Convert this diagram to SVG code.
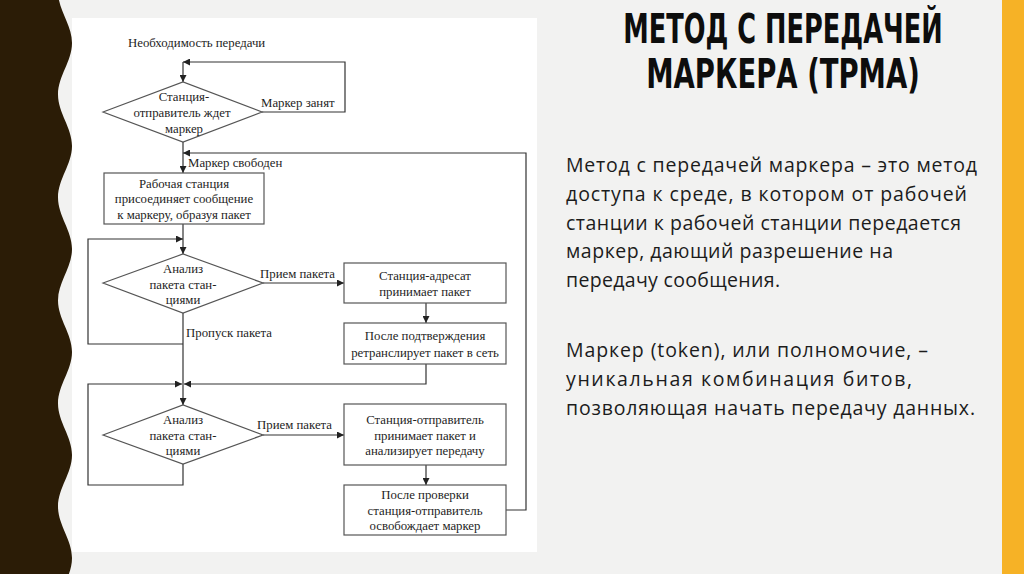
<svg xmlns="http://www.w3.org/2000/svg" width="1024" height="574" viewBox="0 0 1024 574">
<defs>
<marker id="ah" viewBox="0 0 10 10" refX="10" refY="5" markerWidth="8" markerHeight="7" markerUnits="userSpaceOnUse" orient="auto"><path d="M0,0 L10,5 L0,10 z" fill="#222"/></marker>
<style>
.fc{font-family:"Liberation Serif","Times New Roman",serif;font-size:12.8px;fill:#1e1e1e}
.c{text-anchor:middle}
.shape{fill:#fff;stroke:#555;stroke-width:1.2}
.ln{fill:none;stroke:#333;stroke-width:1.2}
.body{font-family:"Open Sans","Noto Sans",sans-serif;font-size:19.5px;fill:#1c1c1c}
.title{font-family:"DejaVu Sans Condensed","DejaVu Sans",sans-serif;font-stretch:condensed;font-weight:bold;font-size:41px;fill:#0d0d0d;text-anchor:middle}
</style>
</defs>
<rect width="1024" height="574" fill="#f2f2f1"/>
<rect x="1002" y="0" width="22" height="574" fill="#f6b226"/>
<path d="M0,-8.5 L58,-8.5 C58,10 72,24.5 72,43 C72,61.5 58,76 58,94.5 C58,113 72,127.5 72,146 C72,164.5 58,179 58,197.5 C58,216 72,230.5 72,249 C72,267.5 58,282 58,300.5 C58,319 72,333.5 72,352 C72,370.5 58,385 58,403.5 C58,422 72,436.5 72,455 C72,473.5 58,488 58,506.5 C58,525 72,539.5 72,558 C72,576.5 58,591 58,609.5 L0,609.5 Z" fill="#2b1c06"/>
<rect x="72" y="18" width="465" height="534" fill="#ffffff"/>

<g id="connectors">
<path class="ln" d="M183,62 V82" marker-end="url(#ah)"/>
<path class="ln" d="M262,112 H345 V62 H183" marker-end="url(#ah)"/>
<path class="ln" d="M183,142 V173" marker-end="url(#ah)"/>
<path class="ln" d="M506,510 H526 V153 H183" marker-end="url(#ah)"/>
<path class="ln" d="M183,224 V254" marker-end="url(#ah)"/>
<path class="ln" d="M183,344 H88 V239 H183" marker-end="url(#ah)"/>
<path class="ln" d="M263,283 H344" marker-end="url(#ah)"/>
<path class="ln" d="M426,303 V323" marker-end="url(#ah)"/>
<path class="ln" d="M183,313 V405" marker-end="url(#ah)"/>
<path class="ln" d="M426,364 V384 H184" marker-end="url(#ah)"/>
<path class="ln" d="M183,464 V485 H88 V384 H182" marker-end="url(#ah)"/>
<path class="ln" d="M263,435 H344" marker-end="url(#ah)"/>
<path class="ln" d="M426,465 V485" marker-end="url(#ah)"/>
<text class="fc" x="128" y="47">Необходимость передачи</text>
<text class="fc" x="261" y="107">Маркер занят</text>
<text class="fc" x="188" y="167">Маркер свободен</text>
<text class="fc" x="260" y="278">Прием пакета</text>
<text class="fc" x="186" y="337">Пропуск пакета</text>
<text class="fc" x="257" y="429">Прием пакета</text>
</g>

<g id="wait">
<polygon class="shape" points="103,112 183,82 262,112 183,142"/>
<text class="fc c" x="184" y="101">Станция-</text>
<text class="fc c" x="182" y="117">отправитель ждет</text>
<text class="fc c" x="184" y="133">маркер</text>
</g>
<g id="attach">
<rect class="shape" x="104" y="173" width="160" height="51"/>
<text class="fc c" x="184" y="188">Рабочая станция</text>
<text class="fc c" x="184" y="203">присоединяет сообщение</text>
<text class="fc c" x="184" y="219">к маркеру, образуя пакет</text>
</g>
<g id="analyze1">
<polygon class="shape" points="103,283 183,254 263,283 183,313"/>
<text class="fc c" x="183" y="273">Анализ</text>
<text class="fc c" x="183" y="289">пакета стан-</text>
<text class="fc c" x="183" y="304">циями</text>
</g>
<g id="receiver">
<rect class="shape" x="344" y="263" width="162" height="40"/>
<text class="fc c" x="425" y="280">Станция-адресат</text>
<text class="fc c" x="425" y="296">принимает пакет</text>
</g>
<g id="retransmit">
<rect class="shape" x="344" y="323" width="162" height="41"/>
<text class="fc c" x="425" y="340">После подтверждения</text>
<text class="fc c" x="425" y="357">ретранслирует пакет в сеть</text>
</g>
<g id="analyze2">
<polygon class="shape" points="103,435 183,405 263,435 183,464"/>
<text class="fc c" x="183" y="424">Анализ</text>
<text class="fc c" x="183" y="440">пакета стан-</text>
<text class="fc c" x="183" y="455">циями</text>
</g>
<g id="sender">
<rect class="shape" x="344" y="404" width="162" height="61"/>
<text class="fc c" x="425" y="424">Станция-отправитель</text>
<text class="fc c" x="425" y="440">принимает пакет и</text>
<text class="fc c" x="425" y="455">анализирует передачу</text>
</g>
<g id="release">
<rect class="shape" x="344" y="485" width="162" height="50"/>
<text class="fc c" x="425" y="499">После проверки</text>
<text class="fc c" x="425" y="515">станция-отправитель</text>
<text class="fc c" x="425" y="530">освобождает маркер</text>
</g>

<g id="title">
<text class="title" transform="translate(783,43) scale(0.695,1)" x="0" y="0">МЕТОД С ПЕРЕДАЧЕЙ</text>
<text class="title" transform="translate(783,88) scale(0.745,1)" x="0" y="0">МАРКЕРА (ТРМА)</text>
</g>
<g id="description">
<text class="body" x="566" y="172" textLength="411">Метод с передачей маркера – это метод</text>
<text class="body" x="566" y="201" textLength="401">доступа к среде, в котором от рабочей</text>
<text class="body" x="566" y="230" textLength="395">станции к рабочей станции передается</text>
<text class="body" x="566" y="258" textLength="327">маркер, дающий разрешение на</text>
<text class="body" x="566" y="287" textLength="214">передачу сообщения.</text>
<text class="body" x="566" y="357" textLength="362">Маркер (token), или полномочие, –</text>
<text class="body" x="566" y="386" textLength="346">уникальная комбинация битов,</text>
<text class="body" x="566" y="415" textLength="409">позволяющая начать передачу данных.</text>
</g>
</svg>
